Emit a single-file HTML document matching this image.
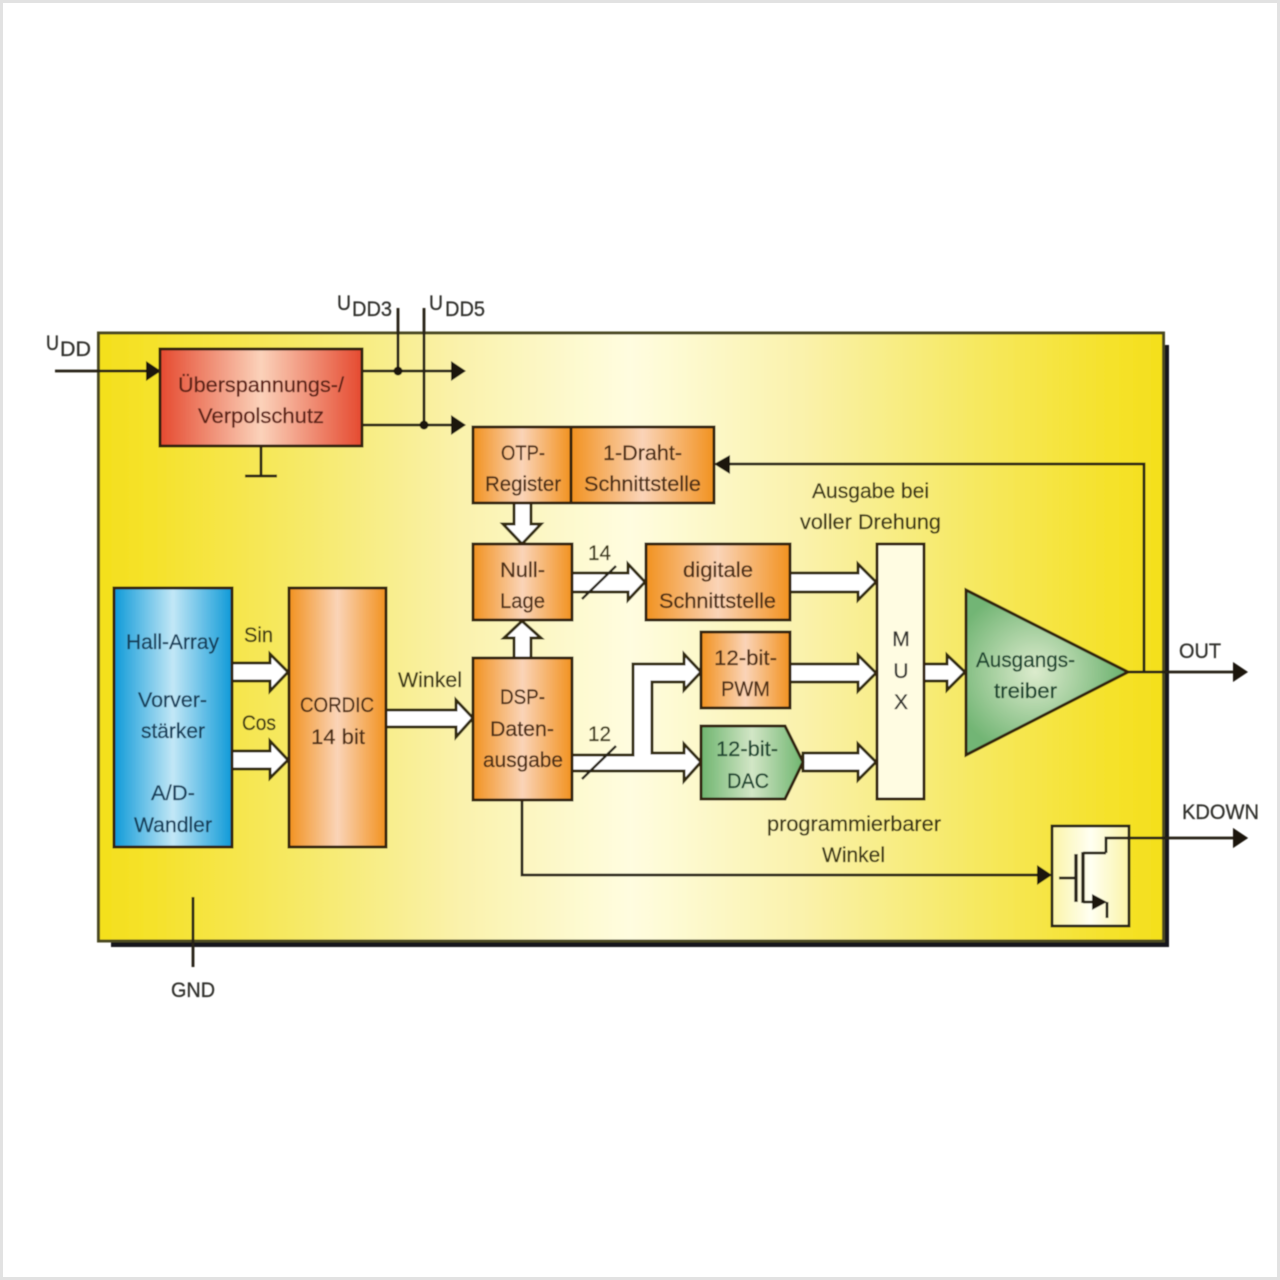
<!DOCTYPE html>
<html><head><meta charset="utf-8">
<style>
html,body{margin:0;padding:0;background:#fff}
svg{display:block}
text{font-family:"Liberation Sans",sans-serif;font-size:21px;fill:#33332e;stroke:#33332e;stroke-width:.3px}
text.k{fill:#4e2e14;stroke:#4e2e14}
text.b{fill:#17405c;stroke:#17405c}
text.g{fill:#1b4630;stroke:#1b4630}
text.r{fill:#5e2216;stroke:#5e2216}
text.y{fill:#3e3816;stroke:#3e3816}
</style></head><body>
<svg width="1280" height="1280" viewBox="0 0 1280 1280" xmlns="http://www.w3.org/2000/svg">
<defs>
<linearGradient id="main"><stop offset="0" stop-color="#f4e01c"/><stop offset=".06" stop-color="#f5e22e"/><stop offset=".17" stop-color="#f6e85e"/><stop offset=".34" stop-color="#faf2ac"/><stop offset=".5" stop-color="#fffde0"/><stop offset=".66" stop-color="#faf2ac"/><stop offset=".83" stop-color="#f6e85e"/><stop offset=".94" stop-color="#f5e22e"/><stop offset="1" stop-color="#f4e01c"/></linearGradient>
<linearGradient id="or"><stop offset="0" stop-color="#f29220"/><stop offset=".5" stop-color="#fad4b8"/><stop offset="1" stop-color="#f29220"/></linearGradient>
<linearGradient id="red"><stop offset="0" stop-color="#e54a30"/><stop offset=".5" stop-color="#fbd2ba"/><stop offset="1" stop-color="#e54a30"/></linearGradient>
<linearGradient id="blue"><stop offset="0" stop-color="#0f9ad8"/><stop offset=".5" stop-color="#c2e7f6"/><stop offset="1" stop-color="#0f9ad8"/></linearGradient>
<linearGradient id="green"><stop offset="0" stop-color="#6fb56f"/><stop offset=".5" stop-color="#d2e6c6"/><stop offset="1" stop-color="#6fb56f"/></linearGradient>
<radialGradient id="tri" gradientUnits="userSpaceOnUse" cx="1035" cy="672" r="85"><stop offset="0" stop-color="#dcebcd"/><stop offset="1" stop-color="#72b574"/></radialGradient>
<linearGradient id="k"><stop offset="0" stop-color="#fbf4a8"/><stop offset=".5" stop-color="#fffff2"/><stop offset="1" stop-color="#fbf4a8"/></linearGradient>
<filter id="soft" x="-2%" y="-2%" width="104%" height="104%"><feGaussianBlur stdDeviation="0.55"/></filter>
</defs>
<rect x="1.5" y="1.5" width="1277" height="1277" fill="#fff" stroke="#e2e2e2" stroke-width="3"/>
<g filter="url(#soft)">
<rect x="111" y="345" width="1058" height="602" fill="#14141a"/>
<rect x="98.500" y="333" width="1065" height="608" fill="url(#main)" stroke="#4c4a22" stroke-width="3"/>

<g fill="none" stroke="#262212" stroke-width="2.800">
<path d="M55 371H150M362 371H452M362 425H452M398 308V371M424 308V425M261 446V476M245 476H277M193 897V967"/>
<path d="M1128 672H1236M1144 672V464H728M522 800V875H1038"/>
</g>
<g fill="#1a170c">
<polygon points="146,361 161,371 146,381"/>
<polygon points="451,361 466,371 451,381"/>
<polygon points="451,415 466,425 451,435"/>
<polygon points="730,455 714,464 730,474"/>
<polygon points="1233,662 1248,672 1233,682"/>
<polygon points="1233,828 1248,838 1233,848"/>
<polygon points="1037,865 1052,875 1037,885"/>
<circle cx="398" cy="371" r="4.500"/><circle cx="424" cy="425" r="4.500"/>
</g>

<g fill="#fff" stroke="#33290f" stroke-width="3" stroke-linejoin="miter">
<polygon points="232,663 270,663 270,654 288,672 270,691 270,681 232,681"/>
<polygon points="232,751 270,751 270,741 288,760 270,778 270,769 232,769"/>
<polygon points="386,710 456,710 456,700 473,718 456,737 456,727 386,727"/>
<polygon points="514,503 531,503 531,524 541,524 522,544 503,524 514,524"/>
<polygon points="514,658 514,638 504,638 522,621 541,638 531,638 531,658"/>
<polygon points="572,573 628,573 628,564 645,582 628,600 628,592 572,592"/>
<polygon points="790,573 858,573 858,564 876,582 858,600 858,592 790,592"/>
<polygon points="790,664 858,664 858,655 876,673 858,691 858,682 790,682"/>
<polygon points="803,753 858,753 858,744 876,762 858,780 858,771 803,771"/>
<polygon points="924,664 947,664 947,655 965,672 947,690 947,681 924,681"/>
<polygon points="572,755 633,755 633,664 684,664 684,654 701,672 684,690 684,682 652,682 652,753 684,753 684,744 701,762 684,781 684,771 572,771"/>
</g>
<g stroke="#262212" stroke-width="2.600" fill="none"><path d="M582 599L616 566M582 779L616 746"/></g>

<g stroke="#33240c" stroke-width="3">
<rect x="160" y="349" width="202" height="97" fill="url(#red)"/>
<rect x="473" y="427" width="98" height="76" fill="url(#or)"/>
<rect x="571" y="427" width="143" height="76" fill="url(#or)"/>
<rect x="473" y="544" width="99" height="76" fill="url(#or)"/>
<rect x="473" y="658" width="99" height="142" fill="url(#or)"/>
<rect x="646" y="544" width="144" height="76" fill="url(#or)"/>
<rect x="701" y="632" width="89" height="76" fill="url(#or)"/>
<polygon points="701,726 785,726 803,762 785,799 701,799" fill="url(#green)"/>
<rect x="877" y="544" width="47" height="255" fill="#fffce2"/>
<polygon points="966,590 1128,672 966,755" fill="url(#tri)"/>
<rect x="114" y="588" width="118" height="259" fill="url(#blue)"/>
<rect x="289" y="588" width="97" height="259" fill="url(#or)"/>
</g>
<rect x="1052" y="826" width="77" height="100" fill="url(#k)" stroke="#262212" stroke-width="2.800"/>
<g fill="none" stroke="#262212" stroke-width="2.800">
<path d="M1059 878H1076M1106 853V838H1236M1083 853H1106M1083 902H1094M1107 902V918"/>
</g>
<g fill="none" stroke="#262212" stroke-width="3.400"><path d="M1076 854V902M1083 852V903"/></g>
<polygon points="1092,894 1107,902 1092,910" fill="#1a170c"/>
<polygon points="1233,828 1248,838 1233,848" fill="#1a170c"/>

<text class="r" x="178" y="392" textLength="166" lengthAdjust="spacingAndGlyphs">Überspannungs-/</text>
<text class="r" x="198" y="423" textLength="126" lengthAdjust="spacingAndGlyphs">Verpolschutz</text>
<text class="k" x="501" y="460" textLength="44" lengthAdjust="spacingAndGlyphs">OTP-</text>
<text class="k" x="485" y="491" textLength="76" lengthAdjust="spacingAndGlyphs">Register</text>
<text class="k" x="603" y="460" textLength="79" lengthAdjust="spacingAndGlyphs">1-Draht-</text>
<text class="k" x="584" y="491" textLength="117" lengthAdjust="spacingAndGlyphs">Schnittstelle</text>
<text class="k" x="500" y="577" textLength="45" lengthAdjust="spacingAndGlyphs">Null-</text>
<text class="k" x="500" y="608" textLength="45" lengthAdjust="spacingAndGlyphs">Lage</text>
<text class="k" x="683" y="577" textLength="70" lengthAdjust="spacingAndGlyphs">digitale</text>
<text class="k" x="659" y="608" textLength="117" lengthAdjust="spacingAndGlyphs">Schnittstelle</text>
<text class="k" x="500" y="704" textLength="45" lengthAdjust="spacingAndGlyphs">DSP-</text>
<text class="k" x="490" y="736" textLength="64" lengthAdjust="spacingAndGlyphs">Daten-</text>
<text class="k" x="483" y="767" textLength="80" lengthAdjust="spacingAndGlyphs">ausgabe</text>
<text class="k" x="714" y="665" textLength="63" lengthAdjust="spacingAndGlyphs">12-bit-</text>
<text class="k" x="721" y="696" textLength="49" lengthAdjust="spacingAndGlyphs">PWM</text>
<text class="k" x="300" y="712" textLength="74" lengthAdjust="spacingAndGlyphs">CORDIC</text>
<text class="k" x="311" y="744" textLength="54" lengthAdjust="spacingAndGlyphs">14 bit</text>
<text class="g" x="716" y="756" textLength="62" lengthAdjust="spacingAndGlyphs">12-bit-</text>
<text class="g" x="727" y="788" textLength="42" lengthAdjust="spacingAndGlyphs">DAC</text>
<text class="g" x="976" y="667" textLength="99" lengthAdjust="spacingAndGlyphs">Ausgangs-</text>
<text class="g" x="994" y="698" textLength="63" lengthAdjust="spacingAndGlyphs">treiber</text>
<text class="b" x="126" y="649" textLength="93" lengthAdjust="spacingAndGlyphs">Hall-Array</text>
<text class="b" x="138" y="707" textLength="69" lengthAdjust="spacingAndGlyphs">Vorver-</text>
<text class="b" x="141" y="738" textLength="64" lengthAdjust="spacingAndGlyphs">stärker</text>
<text class="b" x="151" y="800" textLength="44" lengthAdjust="spacingAndGlyphs">A/D-</text>
<text class="b" x="134" y="832" textLength="78" lengthAdjust="spacingAndGlyphs">Wandler</text>
<text x="901" y="646" text-anchor="middle">M</text>
<text x="901" y="678" text-anchor="middle">U</text>
<text x="901" y="709" text-anchor="middle">X</text>
<text class="y" x="244" y="642" textLength="29" lengthAdjust="spacingAndGlyphs">Sin</text>
<text class="y" x="242" y="730" textLength="34" lengthAdjust="spacingAndGlyphs">Cos</text>
<text class="y" x="398" y="687" textLength="64" lengthAdjust="spacingAndGlyphs">Winkel</text>
<text class="y" x="588" y="560" textLength="23" lengthAdjust="spacingAndGlyphs">14</text>
<text class="y" x="588" y="741" textLength="23" lengthAdjust="spacingAndGlyphs">12</text>
<text class="y" x="812" y="498" textLength="117" lengthAdjust="spacingAndGlyphs">Ausgabe bei</text>
<text class="y" x="800" y="529" textLength="141" lengthAdjust="spacingAndGlyphs">voller Drehung</text>
<text class="y" x="767" y="831" textLength="174" lengthAdjust="spacingAndGlyphs">programmierbarer</text>
<text class="y" x="822" y="862" textLength="63" lengthAdjust="spacingAndGlyphs">Winkel</text>
<text x="1179" y="658" textLength="42" lengthAdjust="spacingAndGlyphs">OUT</text>
<text x="1182" y="819" textLength="77" lengthAdjust="spacingAndGlyphs">KDOWN</text>
<text x="171" y="997" textLength="44" lengthAdjust="spacingAndGlyphs">GND</text>
<text x="46" y="350" textLength="13" lengthAdjust="spacingAndGlyphs">U</text>
<text x="60" y="356" textLength="31" lengthAdjust="spacingAndGlyphs">DD</text>
<text x="337" y="310" textLength="14" lengthAdjust="spacingAndGlyphs">U</text>
<text x="352" y="316" textLength="40" lengthAdjust="spacingAndGlyphs">DD3</text>
<text x="429" y="310" textLength="14" lengthAdjust="spacingAndGlyphs">U</text>
<text x="445" y="316" textLength="40" lengthAdjust="spacingAndGlyphs">DD5</text>
</g>
</svg>
</body></html>
